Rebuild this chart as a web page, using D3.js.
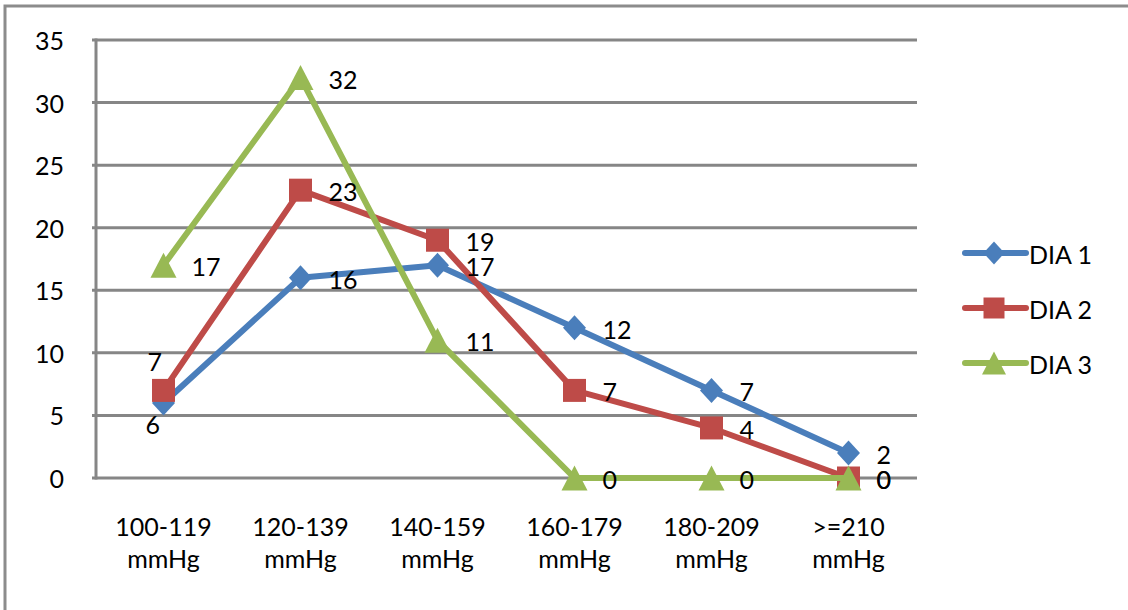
<!DOCTYPE html>
<html>
<head>
<meta charset="utf-8">
<script src="https://cdn.jsdelivr.net/npm/d3@7"></script>
<style>
  html, body { margin: 0; padding: 0; background: #fff; }
  svg text { font-family: Lato, "Open Sans", sans-serif; fill: #000; }
</style>
</head>
<body>
<svg id="chart" width="1128" height="610"></svg>
<script>
// Blood pressure ranges on the x axis (two lines each)
const categories = ["100-119 mmHg", "120-139 mmHg", "140-159 mmHg", "160-179 mmHg", "180-209 mmHg", ">=210 mmHg"];
const seriesNames = ["DIA 1", "DIA 2", "DIA 3"];
const dia1 = [6, 16, 17, 12, 7, 2];
const dia2 = [7, 23, 19, 7, 4, 0];
const dia3 = [17, 32, 11, 0, 0, 0];
const yTicks = [0, 5, 10, 15, 20, 25, 30, 35];

const colors = ["#4a7ebb", "#be4b48", "#98b954"];

// marker shapes as d3 symbol types; size is the bounding-box width
const diamondType = { draw(ctx, s) { const w = s / 2, h = s / 2 + 1; ctx.moveTo(0, -h); ctx.lineTo(w, 0); ctx.lineTo(0, h); ctx.lineTo(-w, 0); ctx.closePath(); } };
const squareType = { draw(ctx, s) { const w = s / 2; ctx.moveTo(-w, -w); ctx.lineTo(w, -w); ctx.lineTo(w, w); ctx.lineTo(-w, w); ctx.closePath(); } };
const triangleType = { draw(ctx, s) { const w = s / 2, h = s / 2 - 0.5; ctx.moveTo(0, -h); ctx.lineTo(w, h); ctx.lineTo(-w, h); ctx.closePath(); } };
const symbols = [diamondType, squareType, triangleType];
const symbolSizes = [23, 23, 26];

const series = seriesNames.map((name, i) => ({ name, values: [dia1, dia2, dia3][i], color: colors[i], symbol: symbols[i], size: symbolSizes[i] }));

const svg = d3.select("#chart");
const plotLeft = 95, plotRight = 917, plotTop = 40, plotBottom = 478;
const fontSize = 25;

const x = d3.scaleBand().domain(categories).range([plotLeft, plotRight]).padding(0);
const y = d3.scaleLinear().domain([0, 35]).range([plotBottom, plotTop]);
const cx = c => x(c) + x.bandwidth() / 2;

// outer frame (top and left edges)
svg.append("path")
  .attr("d", "M5,610 L5,6 L1128,6")
  .attr("fill", "none").attr("stroke", "#8c8c8c").attr("stroke-width", 3);

// horizontal gridlines
svg.append("g").selectAll("line").data(yTicks).join("line")
  .attr("x1", plotLeft - 3).attr("x2", plotRight)
  .attr("y1", d => y(d)).attr("y2", d => y(d))
  .attr("stroke", "#868686").attr("stroke-width", 3);

// vertical axis line
svg.append("line")
  .attr("x1", plotLeft + 1).attr("x2", plotLeft + 1)
  .attr("y1", y(35) - 1.5).attr("y2", y(0) + 1.5)
  .attr("stroke", "#868686").attr("stroke-width", 3);

// y tick labels
svg.append("g").selectAll("text").data(yTicks).join("text")
  .attr("x", 64).attr("y", d => y(d))
  .attr("text-anchor", "end").attr("dominant-baseline", "central")
  .attr("font-size", fontSize)
  .text(d => d);

// category labels (two lines)
const catG = svg.append("g").selectAll("text").data(categories).join("text")
  .attr("text-anchor", "middle").attr("font-size", fontSize)
  .attr("x", d => cx(d));
catG.append("tspan").attr("x", d => cx(d)).attr("y", 536).text(d => d.split(" ")[0]);
catG.append("tspan").attr("x", d => cx(d)).attr("y", 568).text(d => d.split(" ")[1]);

// series lines and markers
const line = d3.line().x((d, i) => cx(categories[i])).y(d => y(d));
series.forEach(s => {
  svg.append("path").datum(s.values)
    .attr("d", line).attr("fill", "none")
    .attr("stroke", s.color).attr("stroke-width", 6)
    .attr("stroke-linejoin", "round").attr("stroke-linecap", "round");
  svg.append("g").selectAll("path").data(s.values).join("path")
    .attr("transform", (d, i) => `translate(${cx(categories[i])},${y(d)})`)
    .attr("d", d3.symbol().type(s.symbol).size(s.size))
    .attr("fill", s.color);
});

// value labels: to the right of each point, except the two crowded first points
const labelOffsets = {
  "0-0": [-18, 20],
  "1-0": [-16, -30]
};
series.forEach((s, si) => {
  svg.append("g").selectAll("text").data(s.values).join("text")
    .attr("x", (d, i) => cx(categories[i]) + (labelOffsets[`${si}-${i}`] ? labelOffsets[`${si}-${i}`][0] : 28))
    .attr("y", (d, i) => y(d) + 1 + (labelOffsets[`${si}-${i}`] ? labelOffsets[`${si}-${i}`][1] : 0))
    .attr("dominant-baseline", "central")
    .attr("font-size", fontSize)
    .text(d => d);
});

// legend
const legend = svg.append("g").selectAll("g").data(series).join("g")
  .attr("transform", (d, i) => `translate(963,${253 + i * 55})`);
legend.append("line").attr("x1", 2).attr("x2", 63).attr("y1", 0).attr("y2", 0)
  .attr("stroke", d => d.color).attr("stroke-width", 6).attr("stroke-linecap", "round");
legend.append("path")
  .attr("transform", "translate(31,0)")
  .attr("d", d => d3.symbol().type(d.symbol).size(d.size - 2)())
  .attr("fill", d => d.color);
legend.append("text").attr("x", 66).attr("y", 1)
  .attr("dominant-baseline", "central").attr("font-size", fontSize)
  .text(d => d.name);
</script>
</body>
</html>
